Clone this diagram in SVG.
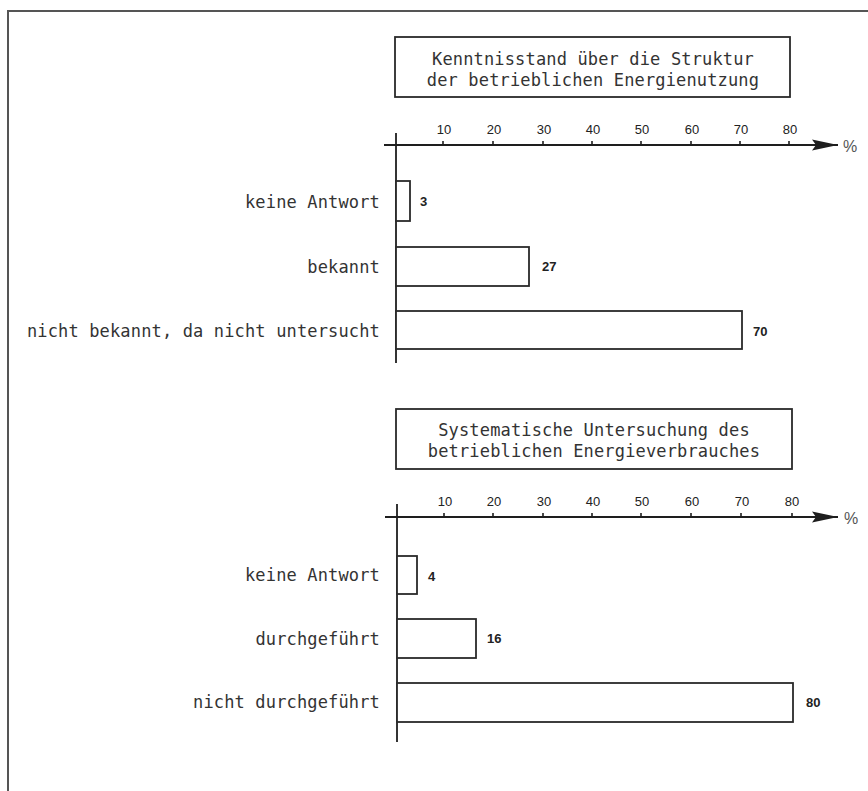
<svg xmlns="http://www.w3.org/2000/svg" width="868" height="791" viewBox="0 0 868 791">
<style>
.frame{fill:none;stroke:#555;stroke-width:2}
.box{fill:none;stroke:#2a2a2a;stroke-width:1.8}
.bar{fill:#fff;stroke:#2a2a2a;stroke-width:1.8}
.ax{fill:none;stroke:#1e1e1e;stroke-width:1.8}
.tk{fill:none;stroke:#1e1e1e;stroke-width:1.6}
.mono{font-family:"DejaVu Sans Mono","Liberation Mono",monospace;font-size:17px;letter-spacing:0.15px;fill:#333}
.num{font-family:"Liberation Sans",Arial,sans-serif;font-size:13px;fill:#222;text-anchor:middle}
.val{font-family:"Liberation Sans",Arial,sans-serif;font-size:13px;font-weight:bold;fill:#222}
.pct{font-family:"Liberation Sans",Arial,sans-serif;font-size:16px;fill:#555}
</style>
<defs>
<marker id="arr" markerUnits="userSpaceOnUse" markerWidth="28" markerHeight="12" refX="26" refY="6" orient="auto">
<path d="M0,0.5 L26,6 L0,11.5 L4,6 Z" fill="#1e1e1e"/>
</marker>
</defs>
<rect width="868" height="791" fill="#fff"/>
<path class="frame" d="M8,791 V11 H868"/>

<g id="chart1">
<g id="title1">
<rect class="box" x="395" y="37" width="395" height="60"/>
<text class="mono" x="593" y="65" text-anchor="middle">Kenntnisstand über die Struktur</text>
<text class="mono" x="593" y="86" text-anchor="middle">der betrieblichen Energienutzung</text>
</g>
<g id="axis1">
<line class="ax" x1="384" y1="145" x2="838" y2="145" marker-end="url(#arr)"/>
<line class="ax" x1="396" y1="133" x2="396" y2="363"/>
<path class="tk" d="M443,145v-4M493,145v-4M543,145v-4M592,145v-4M641,145v-4M691,145v-4M740,145v-4M789,145v-4"/>
<text class="num" x="444" y="134">10</text>
<text class="num" x="494" y="134">20</text>
<text class="num" x="544" y="134">30</text>
<text class="num" x="593" y="134">40</text>
<text class="num" x="642" y="134">50</text>
<text class="num" x="692" y="134">60</text>
<text class="num" x="741" y="134">70</text>
<text class="num" x="790" y="134">80</text>
<text class="pct" x="843" y="152">%</text>
</g>
<g id="bar1a">
<rect class="bar" x="396" y="181" width="14" height="40"/>
<text class="mono" x="380" y="208" text-anchor="end">keine Antwort</text>
<text class="val" x="420" y="206">3</text>
</g>
<g id="bar1b">
<rect class="bar" x="396" y="247" width="133" height="39"/>
<text class="mono" x="380" y="273" text-anchor="end">bekannt</text>
<text class="val" x="542" y="271">27</text>
</g>
<g id="bar1c">
<rect class="bar" x="396" y="311" width="346" height="38"/>
<text class="mono" x="380" y="337" text-anchor="end">nicht bekannt, da nicht untersucht</text>
<text class="val" x="753" y="336">70</text>
</g>
</g>

<g id="chart2">
<g id="title2">
<rect class="box" x="396" y="409" width="396" height="60"/>
<text class="mono" x="594" y="436" text-anchor="middle">Systematische Untersuchung des</text>
<text class="mono" x="594" y="457" text-anchor="middle">betrieblichen Energieverbrauches</text>
</g>
<g id="axis2">
<line class="ax" x1="385" y1="517" x2="838" y2="517" marker-end="url(#arr)"/>
<line class="ax" x1="397" y1="504" x2="397" y2="742"/>
<path class="tk" d="M444,517v-4M493,517v-4M543,517v-4M592,517v-4M641,517v-4M691,517v-4M741,517v-4M792,517v-4"/>
<text class="num" x="445" y="506">10</text>
<text class="num" x="494" y="506">20</text>
<text class="num" x="544" y="506">30</text>
<text class="num" x="593" y="506">40</text>
<text class="num" x="642" y="506">50</text>
<text class="num" x="692" y="506">60</text>
<text class="num" x="742" y="506">70</text>
<text class="num" x="792" y="506">80</text>
<text class="pct" x="844" y="524">%</text>
</g>
<g id="bar2a">
<rect class="bar" x="397" y="556" width="20" height="38"/>
<text class="mono" x="380" y="581" text-anchor="end">keine Antwort</text>
<text class="val" x="428" y="581">4</text>
</g>
<g id="bar2b">
<rect class="bar" x="397" y="619" width="79" height="39"/>
<text class="mono" x="380" y="645" text-anchor="end">durchgeführt</text>
<text class="val" x="487" y="643">16</text>
</g>
<g id="bar2c">
<rect class="bar" x="397" y="683" width="396" height="39"/>
<text class="mono" x="380" y="708" text-anchor="end">nicht durchgeführt</text>
<text class="val" x="806" y="707">80</text>
</g>
</g>
</svg>
